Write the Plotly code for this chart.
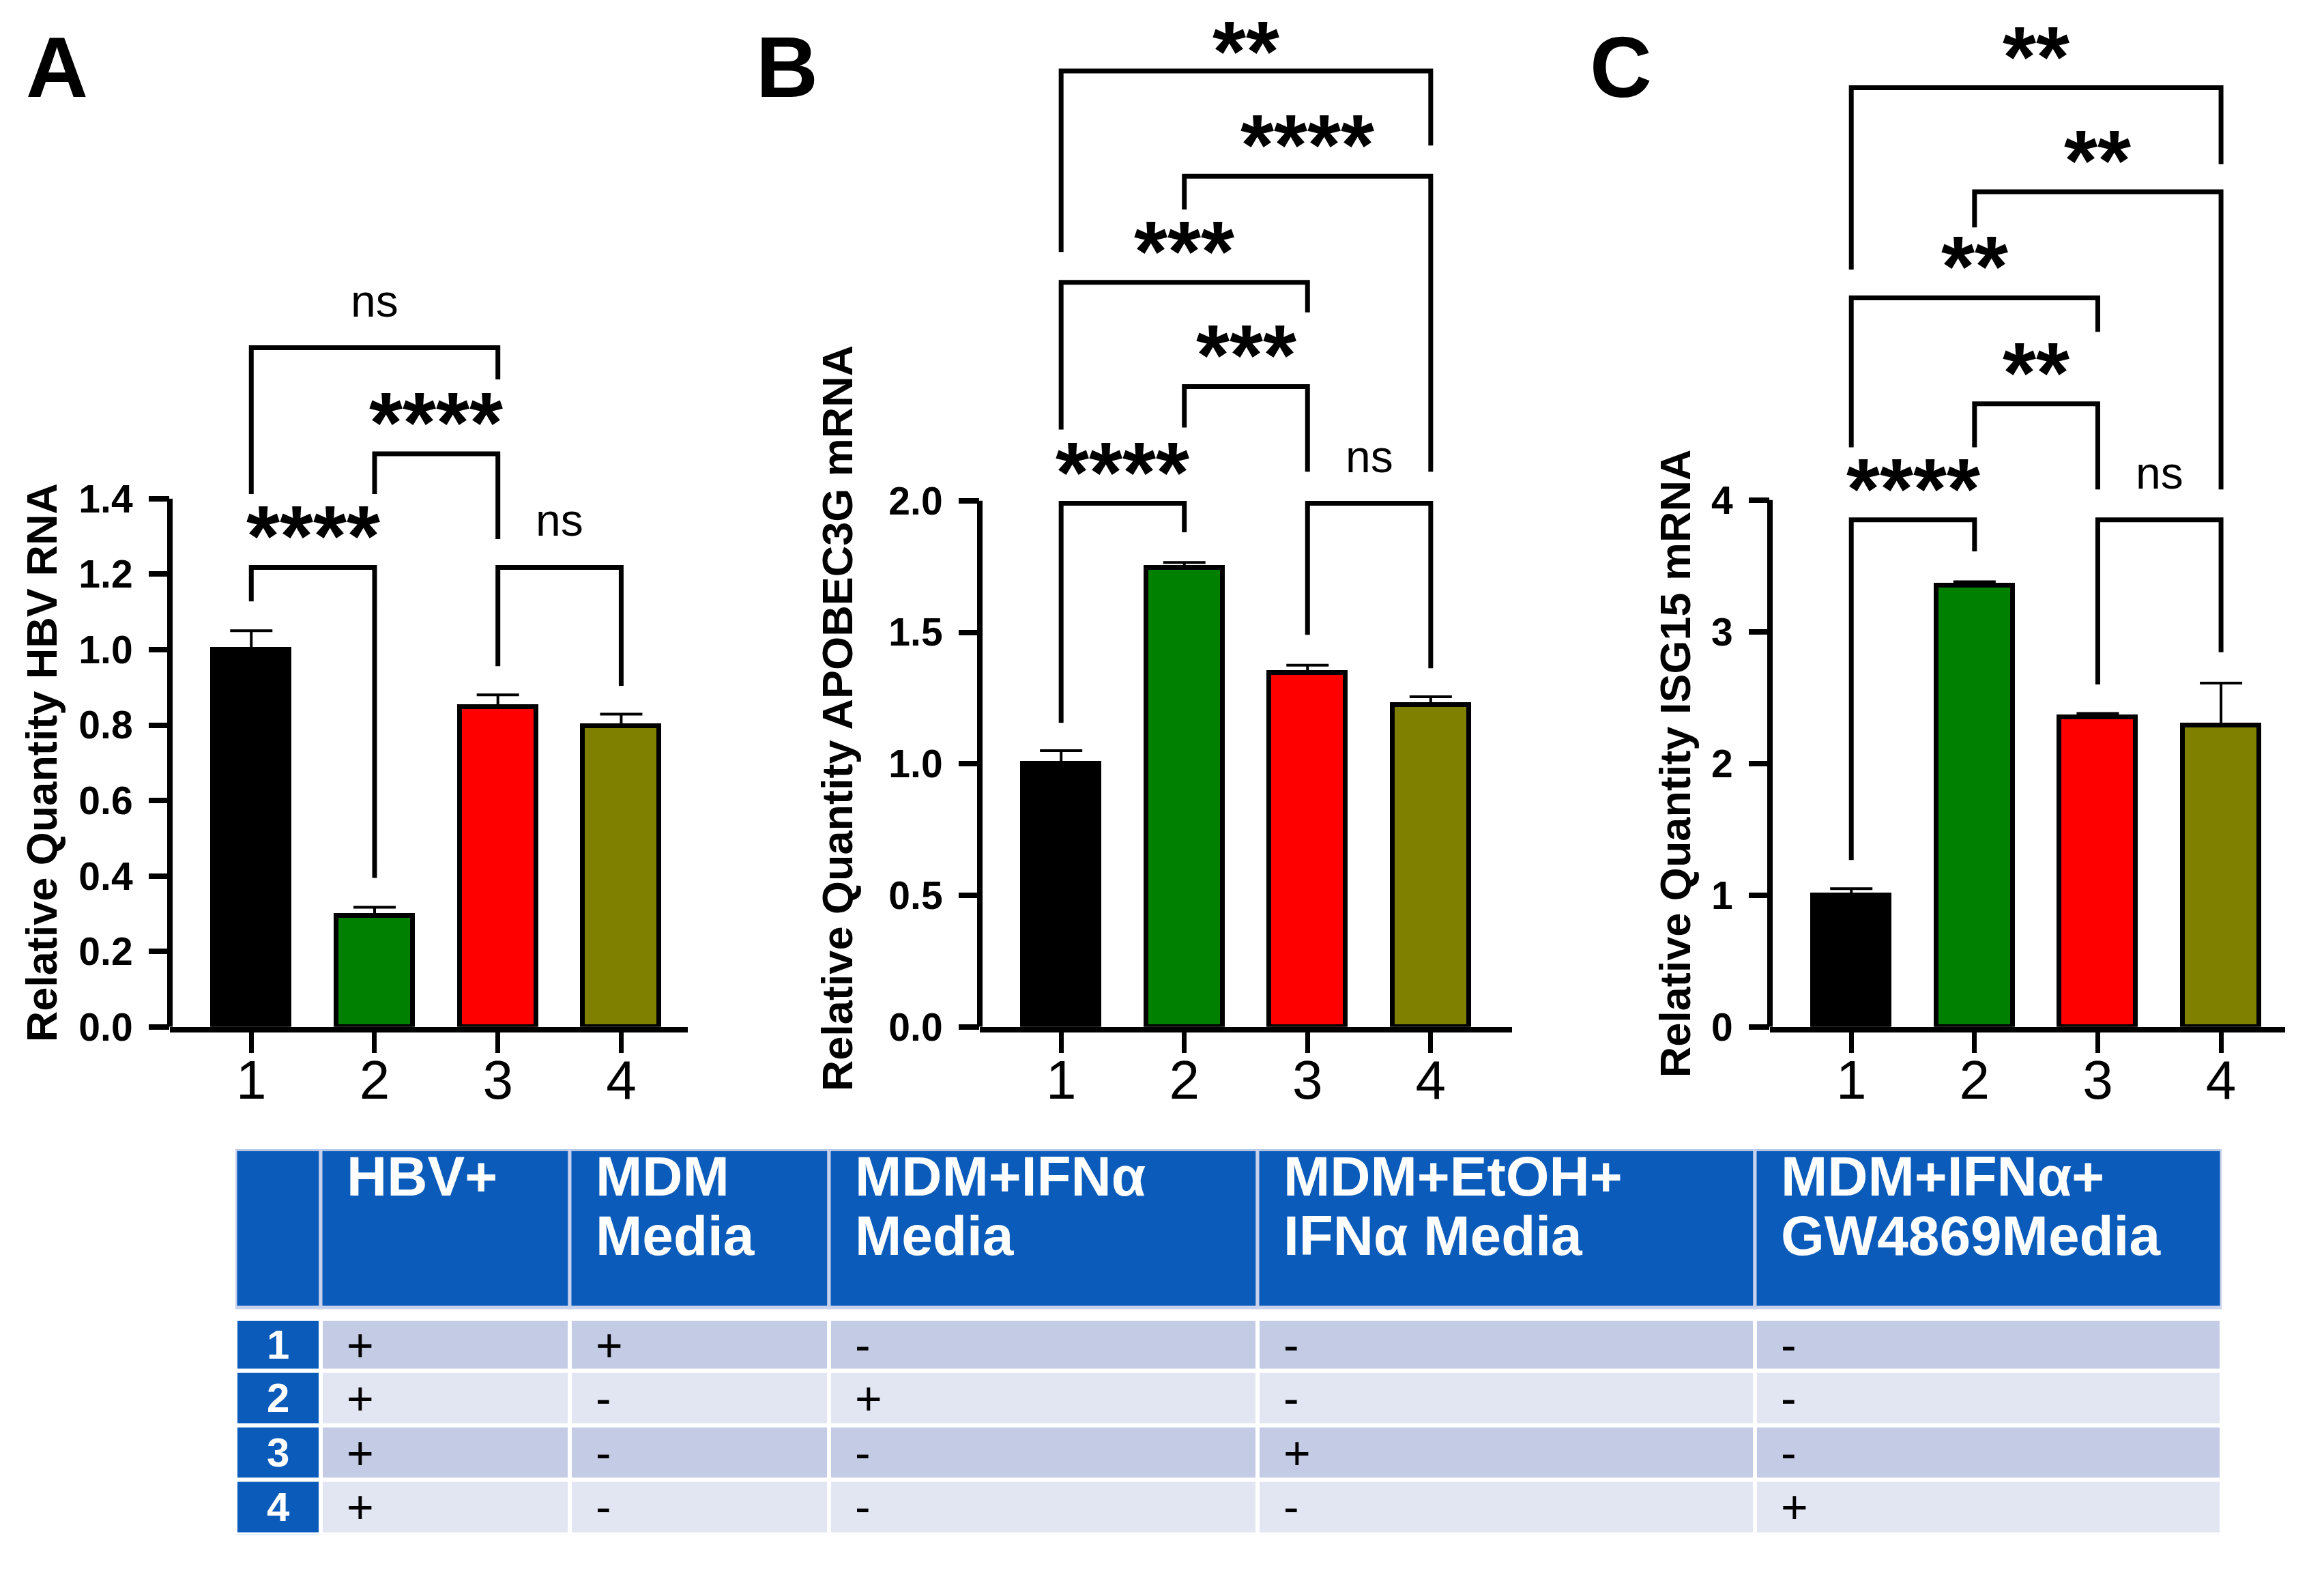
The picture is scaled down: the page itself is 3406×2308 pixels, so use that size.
import plotly.graph_objects as go

# ---------------- data ----------------
categories = [1, 2, 3, 4]
bar_colors = ["#000000", "#008000", "#FF0000", "#808000"]

hbv_values = [1.0, 0.295, 0.848, 0.797]
hbv_errors = [0.05, 0.022, 0.032, 0.032]
apobec_values = [1.0, 1.745, 1.345, 1.225]
apobec_errors = [0.05, 0.02, 0.03, 0.03]
isg15_values = [1.0, 3.35, 2.35, 2.29]
isg15_errors = [0.05, 0.03, 0.03, 0.32]

hbv_ticks = [0, 0.2, 0.4, 0.6, 0.8, 1.0, 1.2, 1.4]
hbv_ticktext = ["0.0", "0.2", "0.4", "0.6", "0.8", "1.0", "1.2", "1.4"]
apobec_ticks = [0, 0.5, 1.0, 1.5, 2.0]
apobec_ticktext = ["0.0", "0.5", "1.0", "1.5", "2.0"]
isg15_ticks = [0, 1, 2, 3, 4]
isg15_ticktext = ["0", "1", "2", "3", "4"]

# comparisons: (group i, group j, bracket level, leg i bottom, leg j bottom, label)
hbv_brackets = [
    (1, 2, 1.218, 1.128, 0.395, "****"),
    (2, 3, 1.519, 1.412, 1.293, "****"),
    (1, 3, 1.800, 1.412, 1.716, "ns"),
    (3, 4, 1.218, 0.956, 0.904, "ns"),
]
apobec_brackets = [
    (1, 2, 1.990, 1.156, 1.880, "****"),
    (2, 3, 2.434, 2.278, 2.110, "***"),
    (3, 4, 1.990, 1.490, 1.363, "ns"),
    (1, 3, 2.830, 2.270, 2.716, "***"),
    (2, 4, 3.233, 3.107, 2.110, "****"),
    (1, 4, 3.633, 2.945, 3.350, "**"),
]
isg15_brackets = [
    (1, 2, 3.85, 1.267, 3.61, "****"),
    (2, 3, 4.73, 4.40, 4.08, "**"),
    (3, 4, 3.85, 2.60, 2.845, "ns"),
    (1, 3, 5.535, 4.40, 5.277, "**"),
    (2, 4, 6.34, 6.07, 4.08, "**"),
    (1, 4, 7.13, 5.75, 6.55, "**"),
]

panel_letters = ["A", "B", "C"]
y_titles = ["Relative Quantity HBV RNA", "Relative Quantity APOBEC3G mRNA",
            "Relative Quantity ISG15 mRNA"]

table_header = ["", "HBV+", "MDM<br>Media", "MDM+IFNα<br>Media",
                "MDM+EtOH+<br>IFNα Media", "MDM+IFNα+<br>GW4869Media"]
row_labels = ["1", "2", "3", "4"]
hbv_col = ["+", "+", "+", "+"]
mdm_col = ["+", "-", "-", "-"]
ifn_col = ["-", "+", "-", "-"]
etoh_col = ["-", "-", "+", "-"]
gw_col = ["-", "-", "-", "+"]

# ---------------- layout constants ----------------
W, H = 3406, 2308
FONT = "Liberation Sans, Arial, sans-serif"
BLUE = "#0B5BBA"
LAV1 = "#C3CBE5"
LAV2 = "#E2E5F2"

x_dom_px = [(249, 1008), (1436, 2216), (2594, 3349)]
x_ranges = [[0.34, 4.54], [0.34, 4.66], [0.34, 4.52]]
base_px = 1526
y_dom = [1 - base_px / H, 1.0]
y_tops = [2.7216, 3.903, 7.796]
title_pos_px = [(61, 1134), (1227, 1068), (2455, 1135)]
letter_pos_px = [36, 1106, 2328]
STAR_SIZE, NS_SIZE = 126, 66
STAR_BOX = 149  # approx. height of an asterisk label box in px

panels = [
    (hbv_values, hbv_errors, hbv_ticks, hbv_ticktext, hbv_brackets),
    (apobec_values, apobec_errors, apobec_ticks, apobec_ticktext, apobec_brackets),
    (isg15_values, isg15_errors, isg15_ticks, isg15_ticktext, isg15_brackets),
]

fig = go.Figure()
layout = dict(width=W, height=H, margin=dict(l=0, r=0, t=0, b=0),
              paper_bgcolor="white", plot_bgcolor="white", showlegend=False,
              bargap=0)
shapes = []
annotations = []

for k, (vals, errs, tv, tt, brackets) in enumerate(panels):
    sfx = "" if k == 0 else str(k + 1)
    xa, ya = "x" + sfx, "y" + sfx
    fig.add_trace(go.Bar(
        x=categories, y=vals, width=0.62, xaxis=xa, yaxis=ya,
        marker=dict(color=bar_colors, line=dict(color="black", width=7)),
        error_y=dict(type="data", array=errs, arrayminus=[0] * len(errs),
                     symmetric=False, color="black", thickness=4, width=31),
        hoverinfo="skip",
    ))
    for (i, j, h, bi, bj, lab) in brackets:
        fig.add_trace(go.Scatter(
            x=[i, i, j, j], y=[bi, h, h, bj], mode="lines", xaxis=xa, yaxis=ya,
            line=dict(color="black", width=7), hoverinfo="skip"))
        is_star = lab.startswith("*")
        if is_star:
            line_px = base_px * (1 - h / y_tops[k])
            ys = min(-27, line_px - STAR_BOX)   # keep label box inside the page
        else:
            ys = 30
        annotations.append(dict(
            x=(i + j) / 2, y=h, xref=xa, yref=ya, text=lab, showarrow=False,
            xanchor="center", yanchor="bottom", yshift=ys,
            font=dict(family=FONT, size=STAR_SIZE if is_star else NS_SIZE,
                      color="black", weight="bold" if is_star else "normal")))
    x0, x1 = x_dom_px[k]
    layout["xaxis" + sfx] = dict(
        domain=[x0 / W, x1 / W], range=x_ranges[k], anchor=ya,
        tickvals=categories, ticktext=[str(c) for c in categories],
        showline=True, linecolor="black", linewidth=8,
        ticks="outside", ticklen=30, tickwidth=7, tickcolor="black",
        tickfont=dict(family=FONT, size=80, color="black"),
        ticklabelstandoff=-29,
        showgrid=False, zeroline=False, fixedrange=True)
    layout["yaxis" + sfx] = dict(
        domain=y_dom, range=[0, y_tops[k]], anchor=xa,
        tickvals=tv, ticktext=tt, showline=False,
        ticks="outside", ticklen=30, tickwidth=8, tickcolor="black",
        tickfont=dict(family=FONT, size=57, color="black", weight="bold"),
        ticklabelstandoff=12,
        showgrid=False, zeroline=False, fixedrange=True)
    shapes.append(dict(type="line", xref=xa + " domain", yref=ya,
                       x0=0, x1=0, y0=0, y1=tv[-1],
                       line=dict(color="black", width=8)))
    tx, ty = title_pos_px[k]
    annotations.append(dict(
        x=tx / W, y=1 - ty / H, xref="paper", yref="paper",
        text=y_titles[k], textangle=-90, showarrow=False,
        xanchor="center", yanchor="middle",
        font=dict(family=FONT, size=63, color="black", weight="bold")))
    annotations.append(dict(
        x=letter_pos_px[k] / W, y=1 - 26 / H, xref="paper", yref="paper",
        text=panel_letters[k], showarrow=False, xanchor="left", yanchor="top",
        font=dict(family=FONT, size=126, color="black", weight="bold")))

# ---------------- table (own axes, units = pixels) ----------------
col_widths = [125, 365, 380, 628, 729, 684]
row_heights = [235, 17, 77, 81, 81, 81]     # header, gap, rows 1-4
tab_left, tab_top = 345, 1708
tab_w, tab_h = sum(col_widths), sum(row_heights)
col_edges = [sum(col_widths[:c]) for c in range(len(col_widths) + 1)]
row_edges = [sum(row_heights[:r]) for r in range(len(row_heights) + 1)]

layout["xaxis4"] = dict(domain=[tab_left / W, (tab_left + tab_w) / W],
                        range=[0, tab_w], visible=False, fixedrange=True,
                        anchor="y4")
layout["yaxis4"] = dict(domain=[1 - (tab_top + tab_h) / H, 1 - tab_top / H],
                        range=[tab_h, 0], visible=False, fixedrange=True,
                        anchor="x4")
fig.add_trace(go.Scatter(x=[0, tab_w], y=[0, tab_h], xaxis="x4", yaxis="y4",
                         mode="markers", marker=dict(opacity=0),
                         hoverinfo="skip"))

columns = [row_labels, hbv_col, mdm_col, ifn_col, etoh_col, gw_col]
row_fill = [LAV1, LAV2, LAV1, LAV2]

# header cells
for c in range(len(table_header)):
    shapes.append(dict(type="rect", xref="x4", yref="y4", layer="below",
                       x0=col_edges[c], x1=col_edges[c + 1],
                       y0=row_edges[0], y1=row_edges[1],
                       fillcolor=BLUE, line=dict(color="#C8D2EC", width=5)))
    for li, line_txt in enumerate(table_header[c].split("<br>")):
        if not line_txt:
            continue
        annotations.append(dict(
            x=col_edges[c], y=row_edges[0] + 40 + 88 * li, xref="x4", yref="y4",
            xshift=36, text="<b>%s</b>" % line_txt, showarrow=False,
            xanchor="left", yanchor="middle",
            font=dict(family=FONT, size=82, color="white")))

# body cells
for r in range(len(row_labels)):
    y0, y1 = row_edges[2 + r], row_edges[3 + r]
    for c in range(len(columns)):
        fill = BLUE if c == 0 else row_fill[r]
        shapes.append(dict(type="rect", xref="x4", yref="y4", layer="below",
                           x0=col_edges[c], x1=col_edges[c + 1], y0=y0, y1=y1,
                           fillcolor=fill, line=dict(color="white", width=6)))
        if c == 0:
            annotations.append(dict(
                x=(col_edges[0] + col_edges[1]) / 2, y=(y0 + y1) / 2,
                xref="x4", yref="y4", text="<b>%s</b>" % columns[c][r],
                showarrow=False, xanchor="center", yanchor="middle",
                font=dict(family=FONT, size=60, color="white")))
        else:
            annotations.append(dict(
                x=col_edges[c], y=(y0 + y1) / 2, xref="x4", yref="y4",
                xshift=36, text=columns[c][r], showarrow=False,
                xanchor="left", yanchor="middle",
                font=dict(family=FONT, size=68, color="black")))

layout["shapes"] = shapes
layout["annotations"] = annotations
fig.update_layout(**layout)
fig.write_html("out.html", config={"displayModeBar": False},
               post_script="document.body.style.margin='0px';"
                           "document.body.style.overflow='hidden';")
